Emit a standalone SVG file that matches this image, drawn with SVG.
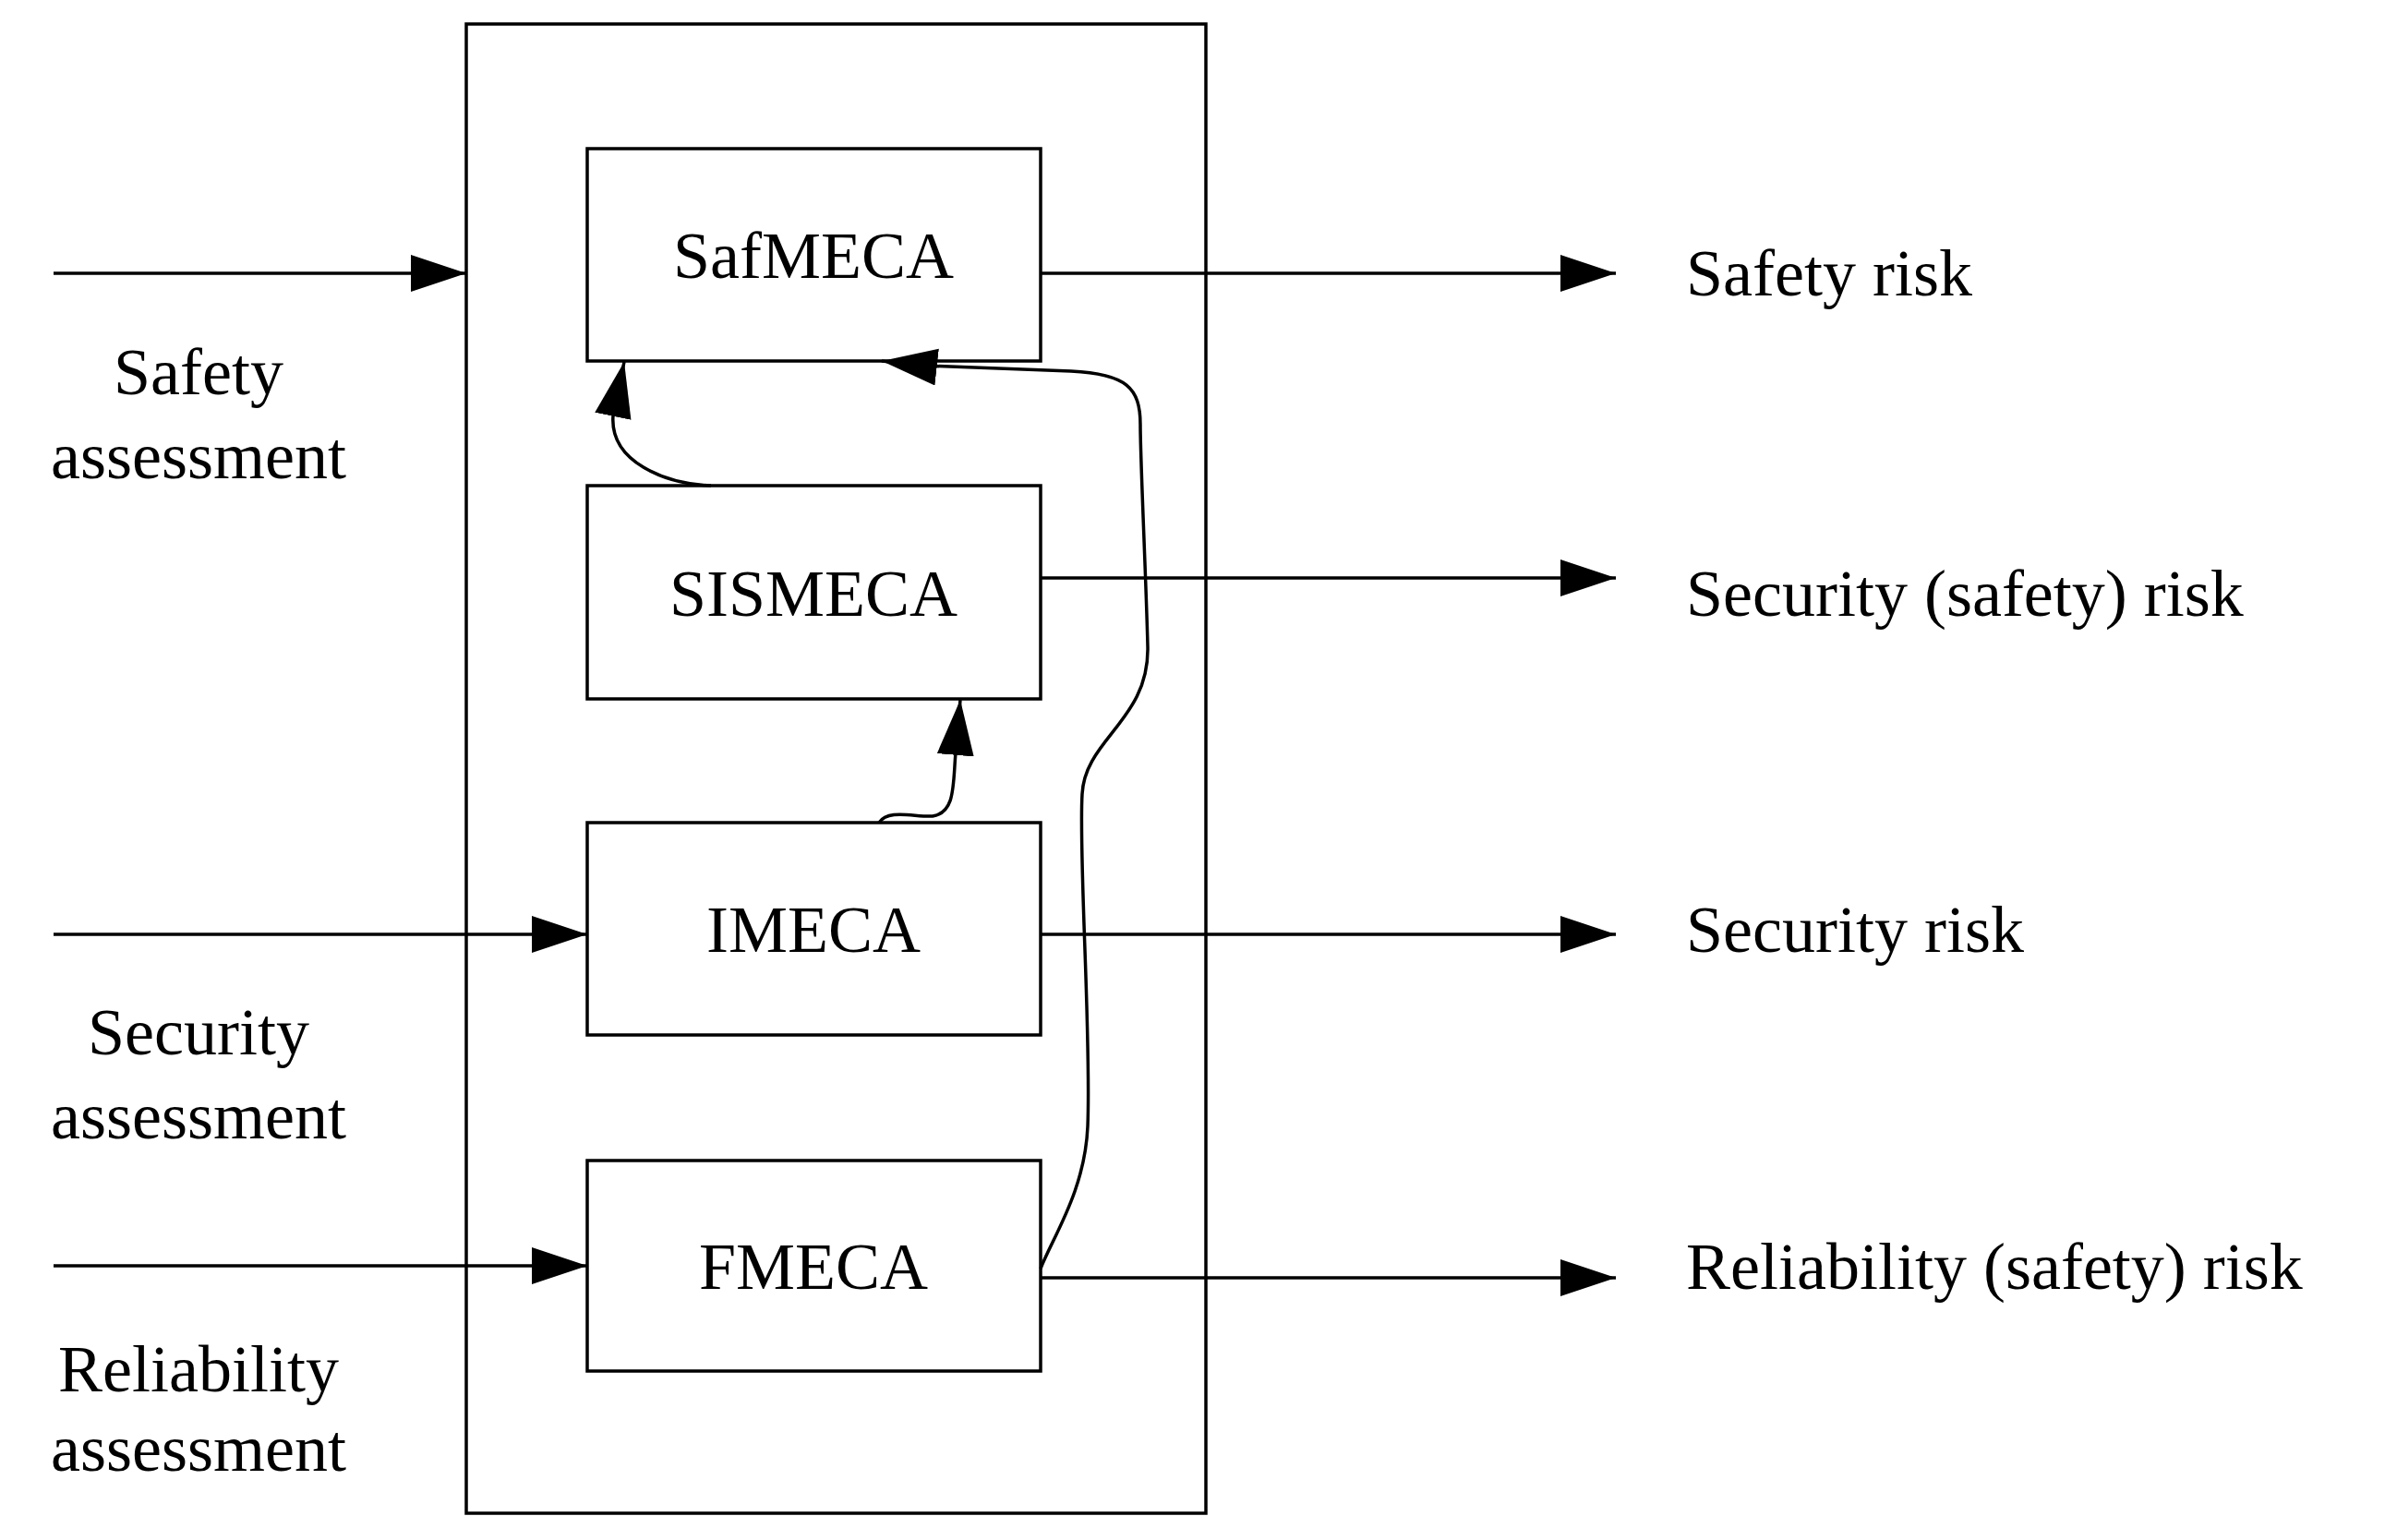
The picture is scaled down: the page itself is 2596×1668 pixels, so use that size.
<svg xmlns="http://www.w3.org/2000/svg" width="2596" height="1668" viewBox="0 0 2596 1668">
<style>
.b{fill:#fff;stroke:#000;stroke-width:3.5}
.c{fill:none;stroke:#000;stroke-width:3.5;marker-end:url(#a)}
text{font-family:"Liberation Serif","DejaVu Serif",serif;font-size:72px;fill:#000}
.m{text-anchor:middle}
</style>
<defs><marker id="a" markerUnits="userSpaceOnUse" markerWidth="62" markerHeight="42" refX="60" refY="20" orient="auto"><path d="M0,0L60,20L0,40z" fill="#000"/></marker></defs>
<rect width="2596" height="1668" fill="#fff"/>
<g id="outer"><rect class="b" x="505" y="26" width="801" height="1613"/></g>
<g id="safmeca"><rect class="b" x="636" y="161" width="491" height="230"/><text class="m" x="881" y="301">SafMECA</text></g>
<g id="sismeca"><rect class="b" x="636" y="526" width="491" height="231"/><text class="m" x="881" y="667">SISMECA</text></g>
<g id="imeca"><rect class="b" x="636" y="891" width="491" height="230"/><text class="m" x="881" y="1031">IMECA</text></g>
<g id="fmeca"><rect class="b" x="636" y="1257" width="491" height="228"/><text class="m" x="881" y="1396">FMECA</text></g>
<g id="labels">
<text class="m" x="215" y="427">Safety</text><text class="m" x="215" y="518">assessment</text>
<text class="m" x="215" y="1142">Security</text><text class="m" x="215" y="1233">assessment</text>
<text class="m" x="215" y="1507">Reliability</text><text class="m" x="215" y="1593">assessment</text>
<text x="1826" y="320">Safety risk</text>
<text x="1826" y="667">Security (safety) risk</text>
<text x="1826" y="1031">Security risk</text>
<text x="1826" y="1396">Reliability (safety) risk</text>
</g>
<g id="connectors">
<path class="c" d="M58,296H505"/>
<path class="c" d="M58,1012H636"/>
<path class="c" d="M58,1371H636"/>
<path class="c" d="M1127,296H1750"/>
<path class="c" d="M1127,626H1750"/>
<path class="c" d="M1127,1012H1750"/>
<path class="c" d="M1127,1384H1750"/>
<path class="c" d="M770,526C720,524 660,500 664,450L676,392"/>
<path class="c" d="M952,891C962,876 990,885 1010,884C1035,880 1032,850 1035,815L1040,758"/>
<path class="c" d="M1127,1374C1140,1340 1175,1290 1178,1220C1182,1120 1168,930 1172,860C1175,800 1245,780 1243,700C1241,620 1235,500 1235,460C1235,420 1220,405 1160,402L1000,396L955,391"/>
</g>
</svg>
